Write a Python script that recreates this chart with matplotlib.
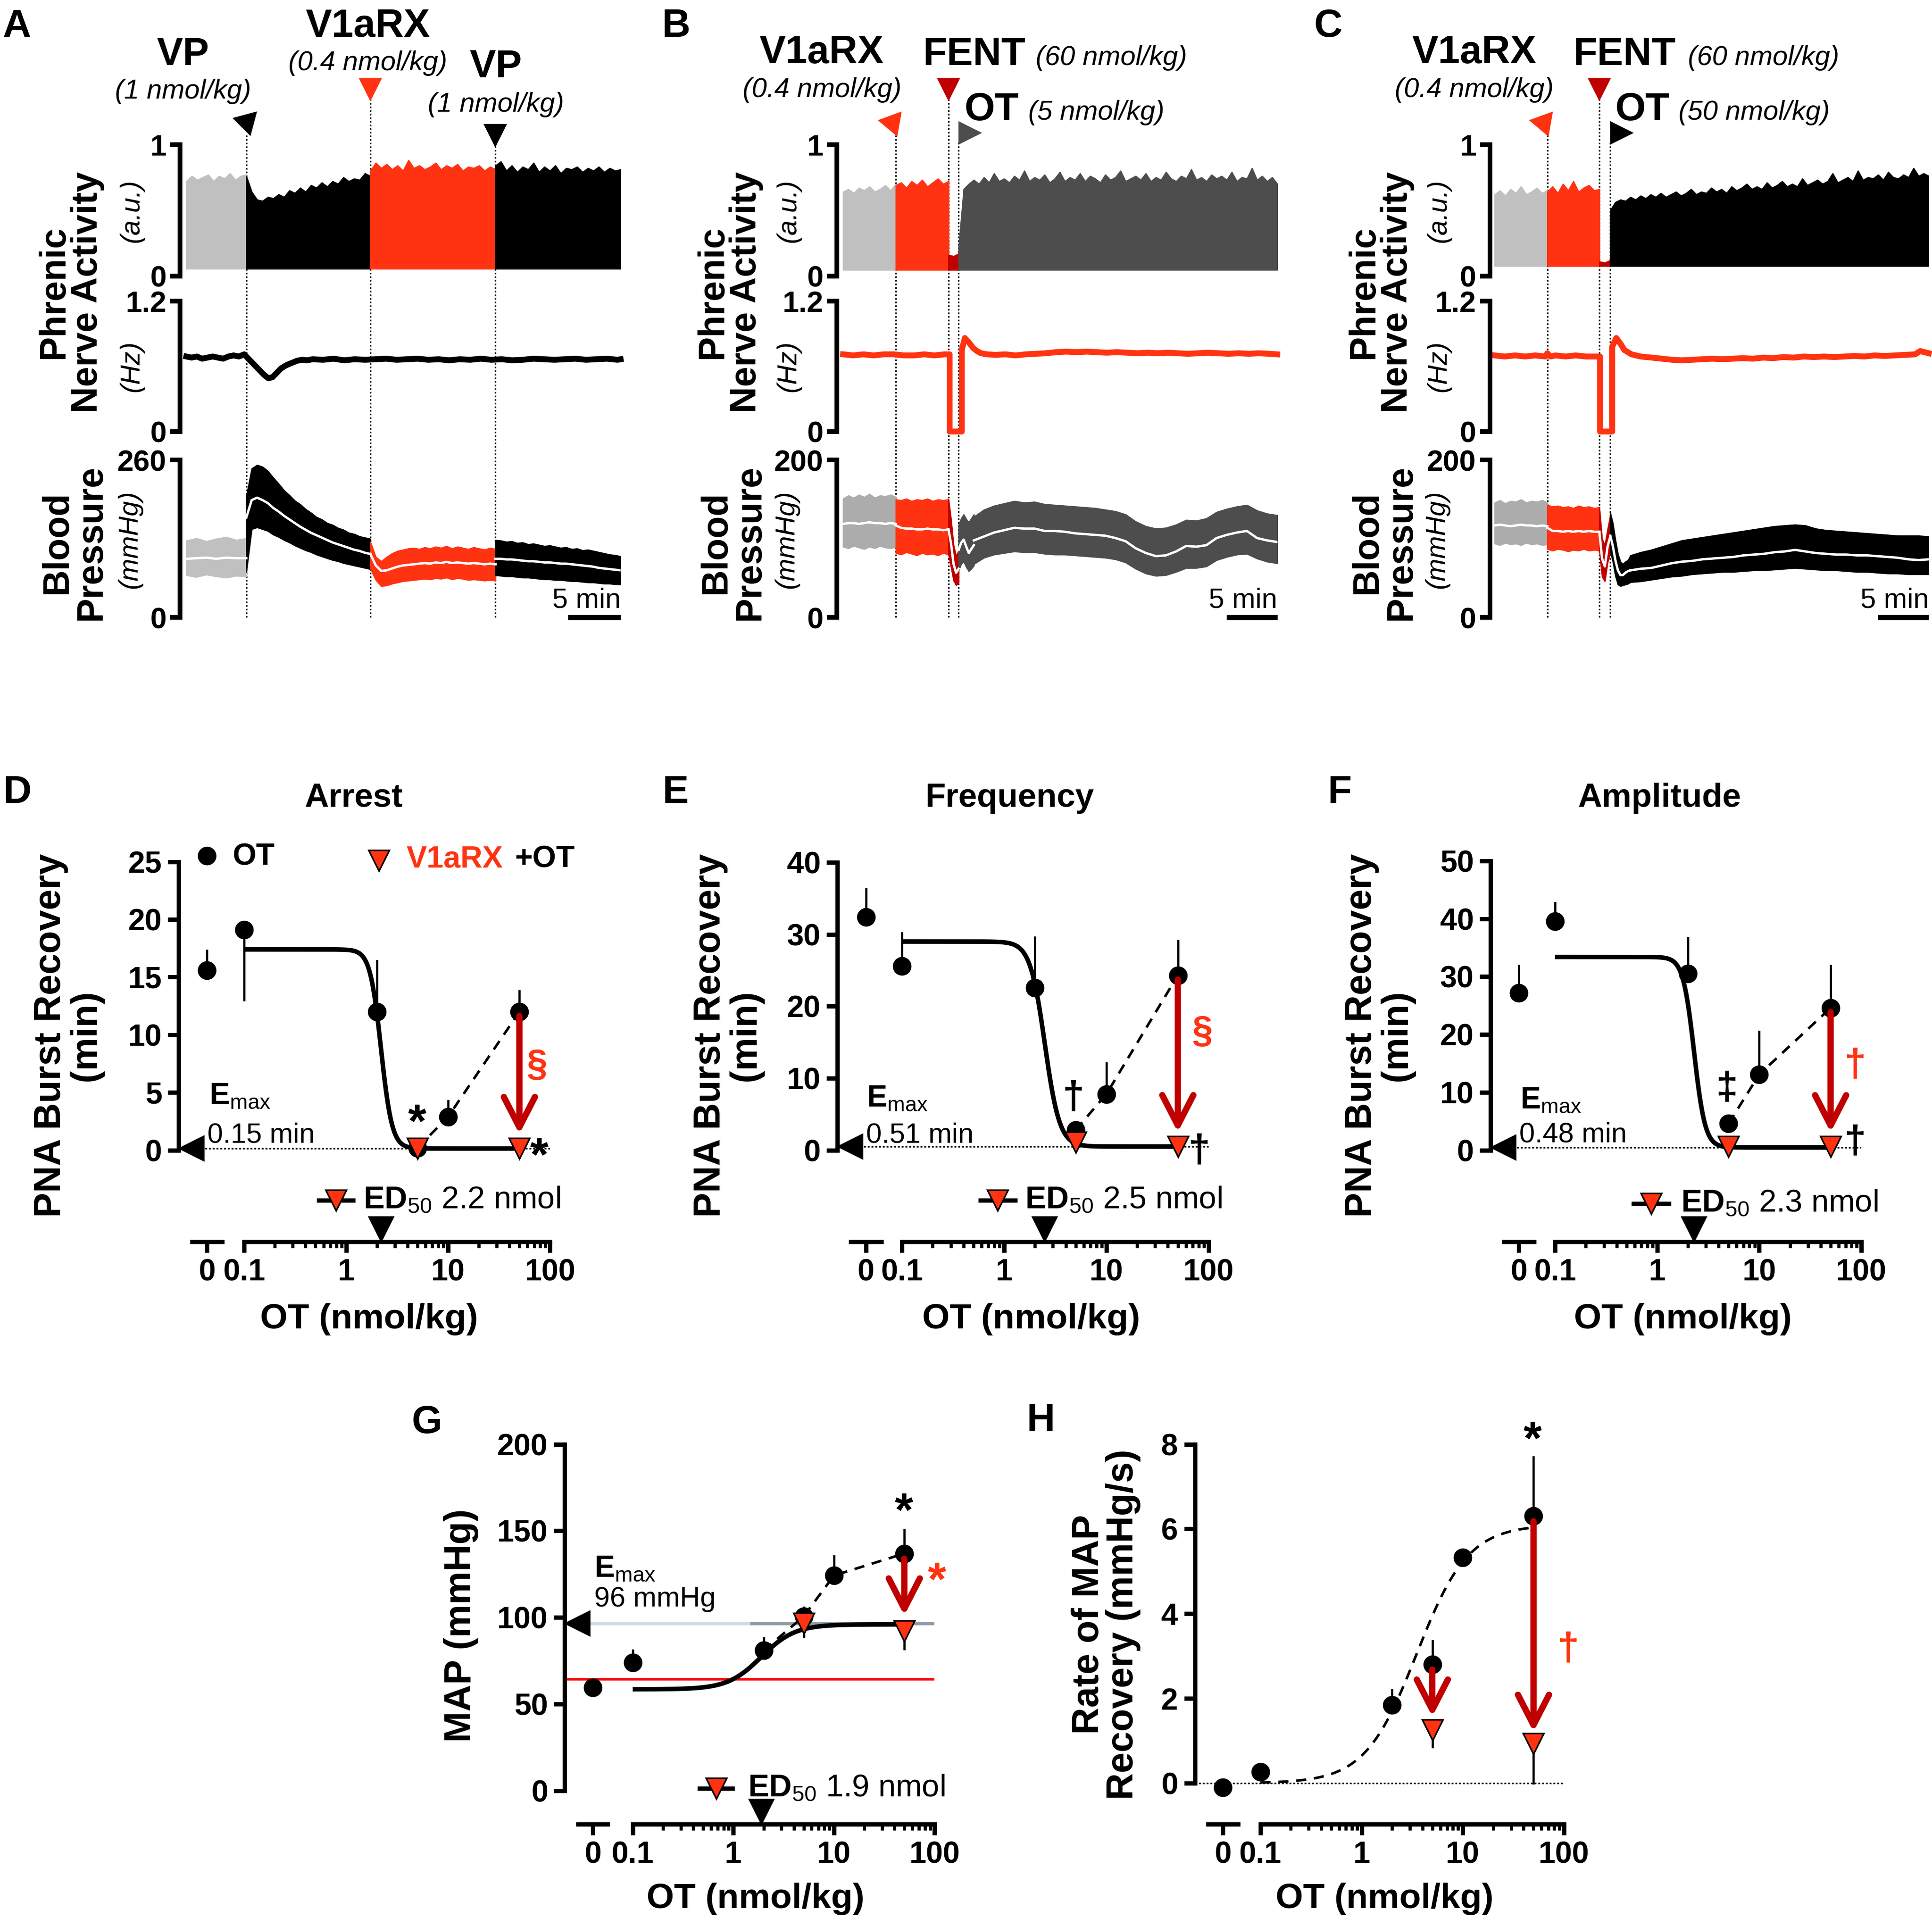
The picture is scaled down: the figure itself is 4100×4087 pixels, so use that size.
import numpy as np
import matplotlib
matplotlib.use("Agg")
import matplotlib.pyplot as plt
from matplotlib import font_manager, transforms
from matplotlib.patches import FancyArrowPatch

plt.rcParams['font.family'] = ['Liberation Sans', 'DejaVu Sans']
plt.rcParams['mathtext.fontset'] = 'custom'
plt.rcParams['mathtext.rm'] = 'Liberation Sans'
plt.rcParams['mathtext.bf'] = 'Liberation Sans:bold'
plt.rcParams['mathtext.it'] = 'Liberation Sans:italic'

_names = {f.name for f in font_manager.fontManager.ttflist}
HAS_NARROW = 'Liberation Sans Narrow' in _names
NARROW = ['Liberation Sans Narrow', 'Liberation Sans'] if HAS_NARROW else ['Liberation Sans']
NS = 1.0 if HAS_NARROW else 0.84

# ---------------- trace data (time in min) ----------------
# A: VP -> V1aRX -> VP
A_edges = [0, 5.7, 17.5, 29.4, 41.3]
A_pna_base = 0.055
A_pna_top = [
    [0.72, 0.76, 0.73, 0.75, 0.77, 0.72, 0.76, 0.74, 0.78, 0.73, 0.76, 0.77],
    [0.76, 0.64, 0.58, 0.57, 0.60, 0.59, 0.62, 0.60, 0.65, 0.63, 0.67, 0.64,
     0.69, 0.67, 0.71, 0.68, 0.72, 0.70, 0.75, 0.72, 0.74, 0.73, 0.78, 0.76],
    [0.80, 0.86, 0.82, 0.85, 0.81, 0.84, 0.80, 0.88, 0.82, 0.84, 0.81, 0.83,
     0.86, 0.81, 0.84, 0.82, 0.85, 0.80, 0.83, 0.82, 0.84, 0.80, 0.83, 0.81],
    [0.84, 0.87, 0.80, 0.84, 0.79, 0.83, 0.81, 0.86, 0.79, 0.83, 0.80, 0.84,
     0.78, 0.82, 0.81, 0.83, 0.79, 0.82, 0.80, 0.83, 0.79, 0.82, 0.80, 0.81],
]
A_freq_t = [0, 0.5, 1, 1.5, 2, 2.5, 3, 3.5, 4, 4.5, 5, 5.5,
            5.8, 6.2, 6.6, 7.0, 7.4, 7.8, 8.2, 8.6, 9.0, 9.5, 10, 10.5, 11, 11.5, 12,
            13, 14, 15, 16, 17, 18, 19, 20, 21, 22, 23, 24, 25, 26, 27, 28, 29,
            30, 31, 32, 33, 34, 35, 36, 37, 38, 39, 40, 41, 41.3]
A_freq_v = [0.69, 0.68, 0.69, 0.67, 0.68, 0.69, 0.68, 0.67, 0.69, 0.70, 0.69, 0.71,
            0.68, 0.64, 0.60, 0.56, 0.52, 0.49, 0.50, 0.54, 0.58, 0.61, 0.63, 0.65, 0.66, 0.655, 0.665,
            0.66, 0.67, 0.655, 0.665, 0.66, 0.665, 0.67, 0.66, 0.665, 0.67, 0.66, 0.665, 0.655, 0.665, 0.66,
            0.67, 0.66, 0.665, 0.655, 0.66, 0.67, 0.665, 0.66, 0.665, 0.67, 0.66, 0.665, 0.67, 0.66, 0.665]
A_bp_hi = [
    [127, 131, 126, 130, 133, 128, 131],
    [200, 246, 252, 249, 242, 231, 221, 210, 202, 193, 187, 179,
     173, 166, 162, 156, 153, 148, 145, 140, 138, 134, 132, 130],
    [125, 100, 93, 100, 106, 110, 112, 114, 115, 113, 116, 114,
     117, 115, 118, 114, 117, 115, 113, 116, 114, 112, 115, 113],
    [128, 127, 125, 126, 123, 124, 121, 122, 120, 118, 119, 117,
     115, 116, 113, 114, 111, 112, 110, 108, 106, 104, 103, 101],
]
A_bp_lo = [
    [70, 67, 71, 68, 66, 69, 68],
    [75, 146, 149, 146, 143, 137, 133, 128, 124, 119, 115, 111,
     108, 104, 101, 98, 95, 93, 90, 88, 86, 84, 82, 80],
    [81, 62, 52, 53, 56, 58, 60, 61, 62, 63, 64, 63,
     65, 64, 66, 63, 65, 64, 62, 63, 62, 61, 62, 61],
    [70, 69, 68, 68, 67, 66, 66, 65, 64, 63, 63, 62,
     62, 61, 60, 60, 59, 58, 58, 57, 56, 56, 55, 55],
]
A_bp_mean = [
    [97, 98, 99, 97, 99, 98, 98],
    [165, 194, 198, 194, 189, 181, 175, 168, 162, 156, 150, 145,
     140, 136, 132, 128, 124, 121, 118, 115, 112, 110, 107, 105],
    [105, 86, 77, 78, 81, 84, 86, 87, 88, 89, 90, 89,
     91, 90, 92, 90, 91, 90, 89, 90, 89, 88, 89, 88],
    [97, 97, 96, 96, 95, 94, 93, 93, 92, 91, 91, 90,
     89, 89, 88, 87, 86, 85, 84, 82, 81, 80, 79, 78],
]

# B: V1aRX -> FENT -> OT 5 nmol/kg
B_edges = [0, 5.2, 10.39, 11.39, 42.8]
B_pna_base = 0.046
B_pna_top = [
    [0.64, 0.66, 0.63, 0.67, 0.65, 0.68, 0.64, 0.66, 0.69, 0.65, 0.70],
    [0.69, 0.71, 0.67, 0.72, 0.69, 0.73, 0.68, 0.71, 0.74, 0.70, 0.72],
    [0.16, 0.15, 0.17],
    [0.22, 0.66, 0.70, 0.73, 0.70, 0.75, 0.71, 0.78, 0.72, 0.74, 0.71, 0.76, 0.73, 0.80, 0.72, 0.75,
     0.73, 0.77, 0.71, 0.74, 0.79, 0.72, 0.75, 0.73, 0.78, 0.72, 0.76, 0.74, 0.71, 0.77, 0.73, 0.75,
     0.80, 0.72, 0.74, 0.76, 0.73, 0.78, 0.72, 0.75, 0.73, 0.79, 0.74, 0.72, 0.76, 0.74, 0.81, 0.73,
     0.75, 0.72, 0.77, 0.74, 0.76, 0.73, 0.79, 0.72, 0.75, 0.74, 0.82, 0.73, 0.76, 0.72, 0.75, 0.70],
]
B_freq_t = [0, 1, 2, 3, 4, 5, 6, 7, 8, 9, 10, 10.5, 10.5, 11.7, 11.7,
            12.0, 12.4, 12.8, 13.2, 13.6, 14.2,
            15, 16, 17, 18, 19, 20, 21, 22, 23, 24, 25, 26, 27, 28, 29, 30, 31, 32, 33,
            34, 35, 36, 37, 38, 39, 40, 41, 42, 42.8]
B_freq_v = [0.71, 0.70, 0.71, 0.70, 0.71, 0.71, 0.70, 0.70, 0.71, 0.70, 0.71, 0.71, 0.0, 0.0, 0.75,
            0.86, 0.82, 0.77, 0.74, 0.72, 0.71,
            0.705, 0.71, 0.70, 0.71, 0.715, 0.72, 0.73, 0.735, 0.73, 0.735, 0.73, 0.725, 0.73, 0.725,
            0.72, 0.725, 0.72, 0.725, 0.72, 0.715, 0.72, 0.725, 0.72, 0.715, 0.72, 0.715, 0.72, 0.715, 0.71]
B_bp_edges = [0, 5.2, 10.39, 11.39, 12.89, 42.8]
B_bp_hi = [
    [151, 155, 152, 156, 153, 157, 152, 155, 154, 156, 153],
    [150, 149, 151, 148, 150, 149, 151, 148, 150, 149, 150],
    [150, 125, 92, 78, 85],
    [118, 126, 131, 125, 121, 126, 131],
    [128, 137, 142, 145, 148, 146, 147, 144, 143, 142, 141, 140, 139, 137, 135, 131,
     122, 116, 113, 114, 118, 124, 123, 126, 134, 138, 141, 143, 136, 132, 130],
]
B_bp_lo = [
    [90, 88, 91, 89, 87, 90, 88, 91, 89, 88, 90],
    [82, 80, 83, 81, 79, 82, 80, 81, 79, 82, 80],
    [80, 64, 47, 41, 44],
    [60, 68, 71, 64, 59, 62, 66],
    [68, 76, 80, 82, 84, 83, 83, 81, 80, 80, 79, 78, 77, 76, 74, 70,
     62, 56, 53, 54, 58, 63, 63, 65, 73, 77, 80, 81, 75, 71, 69],
]
B_bp_mean = [
    [119, 120, 120, 119, 120, 121, 120, 120, 119, 120, 119],
    [117, 114, 113, 113, 112, 112, 113, 112, 112, 111, 112],
    [112, 94, 68, 57, 62],
    [86, 95, 99, 90, 82, 87, 92],
    [98, 103, 108, 111, 114, 113, 113, 110, 110, 109, 107, 106, 105, 104, 101, 97,
     88, 82, 78, 79, 84, 91, 90, 92, 101, 105, 108, 110, 101, 98, 96],
]

# C: V1aRX -> FENT -> OT 50 nmol/kg
C_edges = [0, 5.2, 10.33, 11.41, 42.84]
C_pna_base = 0.075
C_pna_top = [
    [0.62, 0.65, 0.61, 0.66, 0.63, 0.68, 0.62, 0.64, 0.67, 0.63, 0.65],
    [0.64, 0.68, 0.63, 0.70, 0.65, 0.72, 0.64, 0.67, 0.69, 0.65, 0.66],
    [0.11, 0.10, 0.12],
    [0.50, 0.56, 0.58, 0.57, 0.60, 0.58, 0.61, 0.59, 0.62, 0.60, 0.63, 0.60, 0.62, 0.64, 0.61, 0.63,
     0.66, 0.62, 0.64, 0.63, 0.67, 0.64, 0.66, 0.63, 0.68, 0.65, 0.67, 0.70, 0.66, 0.68, 0.66, 0.71,
     0.67, 0.69, 0.72, 0.68, 0.70, 0.68, 0.74, 0.69, 0.71, 0.73, 0.70, 0.72, 0.78, 0.71, 0.73, 0.75,
     0.72, 0.80, 0.73, 0.75, 0.74, 0.77, 0.73, 0.79, 0.75, 0.74, 0.77, 0.75, 0.82, 0.76, 0.78, 0.76],
]
C_freq_t = [0, 1, 2, 3, 4, 5, 5.2, 5.5, 6, 7, 8, 9, 10, 10.4, 10.4, 11.6, 11.6,
            12.0, 12.4, 12.8, 13.5, 14.4,
            15.5, 16.5, 17.5, 18.5, 19.5, 20.5, 21.5, 22.5, 23.5, 24.5, 25.5, 26.5, 27.5, 28.5,
            29.5, 30.5, 31.5, 32.5, 33.5, 34.5, 35.5, 36.5, 37.5, 38.5, 39.5, 40.5, 41.5, 42.0, 42.84]
C_freq_v = [0.70, 0.69, 0.70, 0.69, 0.70, 0.69, 0.72, 0.69, 0.70, 0.69, 0.70, 0.69, 0.69, 0.69, 0.0, 0.0, 0.78,
            0.86, 0.81, 0.75, 0.71, 0.69,
            0.68, 0.67, 0.66, 0.655, 0.66, 0.665, 0.67, 0.665, 0.67, 0.675, 0.67, 0.68, 0.675, 0.685,
            0.68, 0.69, 0.685, 0.69, 0.685, 0.69, 0.695, 0.69, 0.70, 0.695, 0.70, 0.705, 0.71, 0.74, 0.72]
C_bp_edges = [0, 5.2, 10.33, 11.41, 13.41, 42.84]
C_bp_hi = [
    [146, 149, 145, 148, 147, 150, 146, 148, 147, 149, 146],
    [143, 141, 142, 140, 141, 139, 142, 140, 141, 139, 140],
    [140, 100, 92, 112, 130],
    [133, 120, 99, 81, 71, 68, 71, 73, 79],
    [79, 83, 86, 90, 94, 98, 100, 102, 104, 106, 108, 110, 112, 114, 116,
     117, 118, 117, 113, 111, 110, 109, 108, 107, 106, 105, 104, 104, 104, 103],
]
C_bp_lo = [
    [94, 92, 95, 93, 94, 92, 95, 93, 94, 92, 93],
    [87, 85, 87, 86, 84, 86, 85, 87, 85, 86, 85],
    [85, 52, 46, 70, 82],
    [84, 71, 53, 42, 40, 41, 42, 43, 45],
    [45, 46, 48, 50, 52, 53, 55, 56, 57, 58, 58, 59, 60, 60, 61,
     62, 63, 62, 61, 60, 60, 59, 58, 58, 57, 56, 56, 55, 55, 55],
]
C_bp_mean = [
    [117, 118, 117, 116, 117, 118, 117, 117, 116, 117, 116],
    [114, 110, 110, 109, 110, 109, 110, 109, 110, 109, 109],
    [109, 75, 65, 90, 103],
    [104, 91, 73, 60, 54, 54, 57, 59, 60],
    [60, 62, 63, 66, 69, 71, 72, 74, 75, 76, 77, 79, 80, 81, 83,
     84, 86, 84, 82, 81, 80, 80, 79, 79, 78, 77, 76, 74, 73, 74],
]

# ---------------- dose-response data ----------------
DOSES = [0, 0.1, 2, 5, 10, 50]          # OT (nmol/kg)
V1A_DOSES = [5, 50]                      # V1aRX + OT
CURVE_END = 50

D_ot = [15.6, 19.1, 12.0, 0.2, 2.9, 12.0]
D_ot_err = [1.7, -6.1, 4.4, 0, 1.4, 1.8]
D_v1a = [0.15, 0.15]
D_v1a_err = [0, 0]
D_fit = [17.4, 0.15, 2.2, 8.0]           # low-dose level, Emax, ED50, slope

E_ot = [32.4, 25.6, 22.6, 2.8, 7.8, 24.3]
E_ot_err = [3.9, 4.6, 7.0, 0, 4.3, 4.8]
E_v1a = [1.1, 0.5]
E_v1a_err = [0, 0]
E_fit = [29.0, 0.51, 2.5, 6.0]

F_ot = [27.2, 39.6, 30.5, 4.6, 13.1, 24.6]
F_ot_err = [4.7, 3.1, 6.2, 0, 7.4, 7.3]
F_v1a = [0.6, 0.6]
F_v1a_err = [0, 0]
F_fit = [33.4, 0.48, 2.3, 8.0]

G_ot = [59.6, 73.9, 80.9, 100.6, 124.2, 136.9]
G_ot_err = [0, 7.0, 7.3, 5.3, 11.3, 13.8]
G_v1a = [96.5, 92.1]
G_v1a_err = [-7.7, -10.2]
G_fit = [58.5, 96.0, 1.9, 2.6]
G_ref = 64.5

H_ot = [-0.1, 0.27, 1.85, 2.8, 5.33, 6.3]
H_ot_err = [0, 0, 0.35, 0.56, 0, 1.4]
H_v1a = [1.25, 0.93]
H_v1a_err = [-0.4, -0.93]
H_fit = [0.0, 6.1, 3.5, 1.7]

# ---------------- styling ----------------
RED = '#ff3311'
DRED = '#c00000'
LGRAY = '#c0c0c0'
BPGRAY = '#acacac'
DGRAY = '#4d4d4d'

W, H, DPI = 4100, 4087, 300
fig = plt.figure(figsize=(W / DPI, H / DPI), dpi=DPI)
fig.patch.set_facecolor('white')

ov = fig.add_axes([0, 0, 1, 1])
ov.set_xlim(0, W)
ov.set_ylim(H, 0)
ov.axis('off')
ov.patch.set_visible(False)


def rect(x0, y0, x1, y1):
    return [x0 / W, 1 - y1 / H, (x1 - x0) / W, (y1 - y0) / H]


def otext(x, y, s, size, weight='normal', rot=0, family=None, style='normal', color='k', ls=1.2):
    kw = dict(ha='center', va='center', fontsize=size, fontweight=weight, rotation=rot,
              fontstyle=style, color=color, linespacing=ls)
    if family is not None:
        kw['family'] = family
    ov.text(x, y, s, **kw)


# ---------------- trace panels A-C ----------------
ROWS = [(976.4, 1310.4), (306.5, 585.5), (638.9, 915.7)]   # BP, PNA, freq


def trace_axes(x0, x1, xlim, row, ymax, lab):
    yt, yb = ROWS[row]
    ax = fig.add_axes(rect(x0, yt, x1, yb))
    ax.set_xlim(*xlim)
    ax.set_ylim(0, ymax)
    ax.patch.set_visible(False)
    for s in ('top', 'right', 'bottom'):
        ax.spines[s].set_visible(False)
    ax.spines['left'].set_linewidth(2.4)
    ax.spines['left'].set_capstyle('projecting')
    ax.set_xticks([])
    ax.set_yticks([0, ymax], ['0', lab], fontsize=15, fontweight='bold')
    ax.tick_params(axis='y', length=5, width=2.4, pad=2)
    return ax


def draw_trace_panel(x0, x1, xlim, bp_max, edges, pna_base, pna_top, pna_cols,
                     freq_t, freq_v, freq_col, bp_edges, bp_hi, bp_lo, bp_mean, bp_cols):
    ax_bp = trace_axes(x0, x1, xlim, 0, bp_max, str(bp_max))
    ax_pna = trace_axes(x0, x1, xlim, 1, 1, '1')
    ax_fr = trace_axes(x0, x1, xlim, 2, 1.2, '1.2')
    for i, (vals, c) in enumerate(zip(pna_top, pna_cols)):
        t = np.linspace(edges[i], edges[i + 1], len(vals))
        ax_pna.fill_between(t, pna_base, vals, color=c, lw=0.6, edgecolor=c)
    ax_fr.plot(freq_t, freq_v, color=freq_col, lw=3.0, clip_on=False, solid_joinstyle='round')
    for i, c in enumerate(bp_cols):
        t = np.linspace(bp_edges[i], bp_edges[i + 1], len(bp_hi[i]))
        ax_bp.fill_between(t, bp_lo[i], bp_hi[i], color=c, lw=0.6, edgecolor=c)
        ax_bp.plot(t, bp_mean[i], color='white', lw=1.2)
    # 5 min scale bar
    ax_bp.plot([xlim[1] - 5, xlim[1]], [0, 0], color='k', lw=2.6, clip_on=False,
               solid_capstyle='butt')
    ax_bp.text(xlim[1], 0.11 * bp_max, '5 min', ha='right', va='center',
               fontsize=17 * NS, family=NARROW)
    return ax_bp


def event(ax_bp, t, tip_px, center_px, marker, color, ms, xoff=0.0):
    frac = (1310.4 - tip_px) / (1310.4 - 976.4)
    ax_bp.axvline(t, 0, frac, color='k', lw=0.8, ls=(0, (1, 1.3)), clip_on=False, zorder=0)
    yc = (1310.4 - center_px) / (1310.4 - 976.4)
    tr = transforms.offset_copy(ax_bp.get_xaxis_transform(), fig=fig, x=xoff, y=0, units='points')
    ax_bp.plot([t], [yc], marker=marker, color=color, ms=ms, mew=0, clip_on=False, transform=tr)


# Panel A
axA = draw_trace_panel(382.1, 1317, (-0.6, 41.3), 260, A_edges, A_pna_base, A_pna_top,
                       [LGRAY, 'k', RED, 'k'], A_freq_t, A_freq_v, 'k',
                       A_edges, A_bp_hi, A_bp_lo, A_bp_mean, [LGRAY, 'k', RED, 'k'])
event(axA, A_edges[1], 284, 258, (3, 0, 195), 'k', 15)
event(axA, A_edges[2], 211, 190, 'v', RED, 12)
event(axA, A_edges[3], 310, 288, 'v', 'k', 12)

# Panel B
axB = draw_trace_panel(1776.3, 2710.5, (-0.6, 42.8), 200, B_edges, B_pna_base, B_pna_top,
                       [LGRAY, RED, DRED, DGRAY], B_freq_t, B_freq_v, RED,
                       B_bp_edges, B_bp_hi, B_bp_lo, B_bp_mean, [BPGRAY, RED, DRED, DGRAY, DGRAY])
event(axB, B_edges[1], 284, 260, (3, 0, 200), RED, 15, xoff=-2)
event(axB, B_edges[2], 211, 190, 'v', DRED, 12)
event(axB, B_edges[3], 300, 282, '>', DGRAY, 12, xoff=6)

# Panel C
axC = draw_trace_panel(3161.6, 4093, (-0.48, 42.84), 200, C_edges, C_pna_base, C_pna_top,
                       [LGRAY, RED, DRED, 'k'], C_freq_t, C_freq_v, RED,
                       C_bp_edges, C_bp_hi, C_bp_lo, C_bp_mean, [BPGRAY, RED, DRED, 'k', 'k'])
event(axC, C_edges[1], 284, 260, (3, 0, 200), RED, 15, xoff=-2)
event(axC, C_edges[2], 211, 190, 'v', DRED, 12)
event(axC, C_edges[3], 300, 282, '>', 'k', 12, xoff=6)

# trace panel texts
DOSE_SZ = 16.5 * NS
for x, s in [(36, 'A'), (1434, 'B'), (2819, 'C')]:
    otext(x, 56, s, 20, 'bold')
otext(388, 116, 'VP', 20, 'bold')
otext(388, 194, '(1 nmol/kg)', DOSE_SZ, style='italic', family=NARROW)
otext(781, 56, 'V1aRX', 20, 'bold')
otext(781, 134, '(0.4 nmol/kg)', DOSE_SZ, style='italic', family=NARROW)
otext(1052, 142, 'VP', 20, 'bold')
otext(1052, 222, '(1 nmol/kg)', DOSE_SZ, style='italic', family=NARROW)
for dx, ot_dose in [(0, '(5 nmol/kg)'), (1384.6, '(50 nmol/kg)')]:
    otext(1744 + dx, 112, 'V1aRX', 20, 'bold')
    otext(1744 + dx, 191, '(0.4 nmol/kg)', DOSE_SZ, style='italic', family=NARROW)
    otext(2067 + dx + (0 if dx == 0 else -4), 116, 'FENT', 20, 'bold')
    otext(2358 + dx, 123, '(60 nmol/kg)', DOSE_SZ, style='italic', family=NARROW)
    otext(2104 + dx - (0 if dx == 0 else 3), 233, 'OT', 20, 'bold')
    otext(2326 + dx + (0 if dx == 0 else 12), 239, ot_dose, DOSE_SZ, style='italic', family=NARROW)

for xb, xu in [(150, 279), (1548, 1673), (2930, 3053)]:
    otext(xb, 620, 'Phrenic\nNerve Activity', 18.5, 'bold', rot=90, ls=0.98)
    otext(xb + 7, 1151, 'Blood\nPressure', 18.5, 'bold', rot=90, ls=0.98)
    otext(xu, 448, '(a.u.)', DOSE_SZ, style='italic', family=NARROW, rot=90)
    otext(xu, 777, '(Hz)', DOSE_SZ, style='italic', family=NARROW, rot=90)
    otext(xu - 4, 1145, '(mmHg)', DOSE_SZ, style='italic', family=NARROW, rot=90)

# ---------------- dose-response panels D-H ----------------
MINOR = np.log10([m * 10.0 ** e for e in (-1, 0, 1) for m in range(2, 10)])


def upos(doses, zp):
    return np.array([zp if d == 0 else np.log10(d) for d in doses])


def hill(u, p):
    lo, hi, ed50, h = p
    return lo + (hi - lo) / (1 + 10 ** ((np.log10(ed50) - u) * h))


def dose_axes(box, xmin, ymin, yticks, zp):
    ax = fig.add_axes(rect(*box))
    ax.set_xlim(xmin, 2.0)
    ax.set_ylim(ymin, yticks[-1])
    ax.patch.set_visible(False)
    ax.spines['top'].set_visible(False)
    ax.spines['right'].set_visible(False)
    for s in ('left', 'bottom'):
        ax.spines[s].set_linewidth(2.2)
    ax.spines['left'].set_bounds(0, yticks[-1])
    ax.spines['bottom'].set_bounds(-1, 2)
    ax.set_yticks(yticks, [f'{v:g}' for v in yticks], fontsize=15.5, fontweight='bold')
    ax.set_xticks([zp, -1, 0, 1, 2], ['0', '0.1', '1', '10', '100'], fontsize=15.5, fontweight='bold')
    ax.set_xticks(MINOR, minor=True)
    ax.tick_params(which='major', length=5.5, width=2.2, pad=3)
    ax.tick_params(which='minor', length=3, width=1.6)
    ax.plot([zp - 0.17, zp + 0.17], [ymin, ymin], color='k', lw=2.2, clip_on=False,
            solid_capstyle='butt')
    return ax


def draw_dose(ax, zp, ot, ot_err, v1a, v1a_err, fit, fit_ls, dash_from):
    u = upos(DOSES, zp)
    uv = upos(V1A_DOSES, zp)
    for ui, yi, ei in zip(u, ot, ot_err):
        if ei:
            ax.plot([ui, ui], [yi, yi + ei], color='k', lw=1.1, zorder=2, clip_on=False)
    for ui, yi, ei in zip(uv, v1a, v1a_err):
        if ei:
            ax.plot([ui, ui], [yi, yi + ei], color='k', lw=1.1, zorder=2, clip_on=False)
    ug = np.linspace(-1, np.log10(CURVE_END), 400)
    if fit_ls == '-':
        ax.plot(ug, hill(ug, fit), color='k', lw=2.3, zorder=3, solid_capstyle='butt')
    else:
        ax.plot(ug, hill(ug, fit), color='k', lw=1.3, ls=(0, (4, 3)), zorder=3)
    if dash_from is not None:
        ax.plot(u[dash_from:], np.array(ot)[dash_from:], color='k', lw=1.3, ls=(0, (4, 3)), zorder=3)
    ax.plot(u, ot, 'o', color='k', ms=8.5, zorder=4, clip_on=False)
    ax.plot(uv, v1a, 'v', mfc=RED, mec='k', mew=0.8, ms=10.5, zorder=5, clip_on=False)
    return u, uv


def red_arrow(ax, u, y0, y1):
    ax.add_patch(FancyArrowPatch((u, y0), (u, y1), arrowstyle='->,head_length=0.7,head_width=0.36',
                                 mutation_scale=22, lw=3.2, color=DRED, shrinkA=0, shrinkB=0,
                                 zorder=6, clip_on=False))


def emax_marks(ax, xmin, y, line=True):
    if line:
        ax.plot([xmin, 2.0], [y, y], color='k', lw=0.8, ls=(0, (1.2, 1.2)), zorder=1)
    ax.plot([xmin + 0.13], [y], '<', color='k', ms=12, zorder=5, clip_on=False)


def ed50_marks(ax, ymin, ed50, ly, lx0, lx1, lt, text):
    tr = transforms.offset_copy(ax.transData, fig=fig, x=0, y=6.5, units='points')
    ax.plot([np.log10(ed50)], [ymin], 'v', color='k', ms=12, clip_on=False, transform=tr)
    ax.plot([lx0, lx1], [ly, ly], color='k', lw=2.2, clip_on=False, solid_capstyle='butt')
    ax.plot([(lx0 + lx1) / 2], [ly], 'v', mfc=RED, mec='k', mew=0.8, ms=10.5, clip_on=False)
    ax.text(lt, ly, r'$\mathbf{ED}_{\mathrm{50}}$ ' + text, fontsize=16, va='center', ha='left')


def mark(ax, x, y, s, color='k', size=20):
    ax.text(x, y, s, color=color, fontsize=size, ha='center', va='center', fontweight='bold')


# Panel D
zpD = -1.364
axD = dose_axes((378.9, 1828.6, 1167.3, 2635), -1.644, -7.93, [0, 5, 10, 15, 20, 25], zpD)
uD, uvD = draw_dose(axD, zpD, D_ot, D_ot_err, D_v1a, D_v1a_err, D_fit, '-', 3)
emax_marks(axD, -1.644, D_fit[1])
axD.text(-1.345, 4.7, r'$\mathbf{E}_{\mathrm{max}}$', fontsize=15.5, va='center', ha='left')
axD.text(-1.36, 1.3, '0.15 min', fontsize=17 * NS, family=NARROW, va='center', ha='left')
ed50_marks(axD, -7.93, D_fit[2], -4.33, -0.291, 0.092, 0.169, '2.2 nmol')
red_arrow(axD, uvD[1], D_ot[5] - 0.015 * 25, D_v1a[1] + 0.05 * 25)
mark(axD, 0.697, 2.2, '*', size=24)
mark(axD, 1.893, -0.7, '*', size=24)
mark(axD, 1.874, 7.3, '§', color=RED, size=19)
# legend
axD.plot([zpD], [25.5], 'o', color='k', ms=8.5, clip_on=False)
axD.text(-1.115, 25.4, 'OT', fontsize=15.5, fontweight='bold', va='center', ha='left')
axD.plot([0.322], [25.1], 'v', mfc=RED, mec='k', mew=0.8, ms=10.5, clip_on=False)
axD.text(0.59, 25.2, 'V1aRX', color=RED, fontsize=15.5, fontweight='bold', va='center', ha='left')
axD.text(1.655, 25.2, '+OT', fontsize=15.5, fontweight='bold', va='center', ha='left')

# Panel E
zpE = -1.352
axE = dose_axes((1777.2, 1830, 2564.8, 2635), -1.631, -12.72, [0, 10, 20, 30, 40], zpE)
uE, uvE = draw_dose(axE, zpE, E_ot, E_ot_err, E_v1a, E_v1a_err, E_fit, '-', 3)
emax_marks(axE, -1.631, E_fit[1])
axE.text(-1.344, 7.2, r'$\mathbf{E}_{\mathrm{max}}$', fontsize=15.5, va='center', ha='left')
axE.text(-1.352, 2.1, '0.51 min', fontsize=17 * NS, family=NARROW, va='center', ha='left')
ed50_marks(axE, -12.72, E_fit[2], -6.95, -0.255, 0.127, 0.204, '2.5 nmol')
red_arrow(axE, uvE[1], E_ot[5] - 0.015 * 40, E_v1a[1] + 0.05 * 40)
mark(axE, 0.674, 7.2, '†', size=20)
mark(axE, 1.905, -0.2, '†', size=20)
mark(axE, 1.942, 16.3, '§', color=RED, size=19)

# Panel F
zpF = -1.354
axF = dose_axes((3163, 1826.8, 3950.1, 2635), -1.633, -15.81, [0, 10, 20, 30, 40, 50], zpF)
uF, uvF = draw_dose(axF, zpF, F_ot, F_ot_err, F_v1a, F_v1a_err, F_fit, '-', 3)
emax_marks(axF, -1.633, F_fit[1])
axF.text(-1.342, 8.6, r'$\mathbf{E}_{\mathrm{max}}$', fontsize=15.5, va='center', ha='left')
axF.text(-1.35, 2.7, '0.48 min', fontsize=17 * NS, family=NARROW, va='center', ha='left')
ed50_marks(axF, -15.81, F_fit[2], -9.2, -0.253, 0.136, 0.233, '2.3 nmol')
red_arrow(axF, uvF[1], F_ot[5] - 0.015 * 50, F_v1a[1] + 0.05 * 50)
mark(axF, 0.681, 10.6, '‡', size=20)
mark(axF, 1.938, 14.6, '†', color=RED, size=20)
mark(axF, 1.938, 1.3, '†', size=20)

# Panel G
zpG = -1.396
axG = dose_axes((1198.3, 3064.6, 1983.4, 3870.9), -1.676, -19.34, [0, 50, 100, 150, 200], zpG)
axG.plot([-1.676, 2.0], [G_ref, G_ref], color='#ff0000', lw=1.3, zorder=1)
axG.plot([-1.44, 0.183], [G_fit[1] + 0.6] * 2, color='#d3dbe1', lw=1.6, zorder=1)
axG.plot([0.183, 2.0], [G_fit[1] + 0.6] * 2, color='#8d9ca6', lw=1.6, zorder=1)
uG, uvG = draw_dose(axG, zpG, G_ot, G_ot_err, G_v1a, G_v1a_err, G_fit, '-', 2)
emax_marks(axG, -1.676, G_fit[1] + 0.6, line=False)
axG.text(-1.384, 128, r'$\mathbf{E}_{\mathrm{max}}$', fontsize=15.5, va='center', ha='left')
axG.text(-1.384, 110.5, '96 mmHg', fontsize=17 * NS, family=NARROW, va='center', ha='left')
ed50_marks(axG, -19.34, G_fit[2], 1.4, -0.358, 0.015, 0.146, '1.9 nmol')
red_arrow(axG, uvG[1], G_ot[5] - 0.015 * 200, G_v1a[1] + 0.045 * 200)
mark(axG, 1.694, 160, '*', size=24)
mark(axG, 2.022, 120, '*', color=RED, size=24)

# Panel H
zpH = -1.371
axH = dose_axes((2535.5, 3064.6, 3318.9, 3870.9), -1.649, -0.968, [0, 2, 4, 6, 8], zpH)
axH.plot([-1.649, 2.0], [0, 0], color='k', lw=0.8, ls=(0, (1.2, 1.2)), zorder=1)
uH, uvH = draw_dose(axH, zpH, H_ot, H_ot_err, H_v1a, H_v1a_err, H_fit, '--', None)
red_arrow(axH, uvH[0], H_ot[3] - 0.015 * 8, H_v1a[0] + 0.04 * 8)
red_arrow(axH, uvH[1], H_ot[5] - 0.015 * 8, H_v1a[1] + 0.035 * 8)
mark(axH, 1.69, 8.05, '*', size=24)
mark(axH, 2.04, 3.15, '†', color=RED, size=20)

# dose panel texts
for x, y, s in [(37, 1682, 'D'), (1433, 1682, 'E'), (2843, 1682, 'F'), (906, 3019, 'G'), (2208, 3015, 'H')]:
    otext(x, y, s, 20, 'bold')
for x, s in [(750, 'Arrest'), (2142, 'Frequency'), (3521, 'Amplitude')]:
    otext(x, 1694, s, 17, 'bold')
for x in (145, 1545, 2927):
    otext(x, 2197, 'PNA Burst Recovery\n(min)', 19, 'bold', rot=90, ls=1.0)
for x in (783, 2188, 3571):
    otext(x, 2800, 'OT (nmol/kg)', 18, 'bold')
otext(1603, 4030, 'OT (nmol/kg)', 18, 'bold')
otext(2938, 4030, 'OT (nmol/kg)', 18, 'bold')
otext(978, 3449, 'MAP (mmHg)', 19, 'bold', rot=90)
otext(2347, 3447, 'Rate of MAP\nRecovery (mmHg/s)', 19, 'bold', rot=90, ls=0.95)

fig.savefig('out.png', dpi=DPI, facecolor='white')
